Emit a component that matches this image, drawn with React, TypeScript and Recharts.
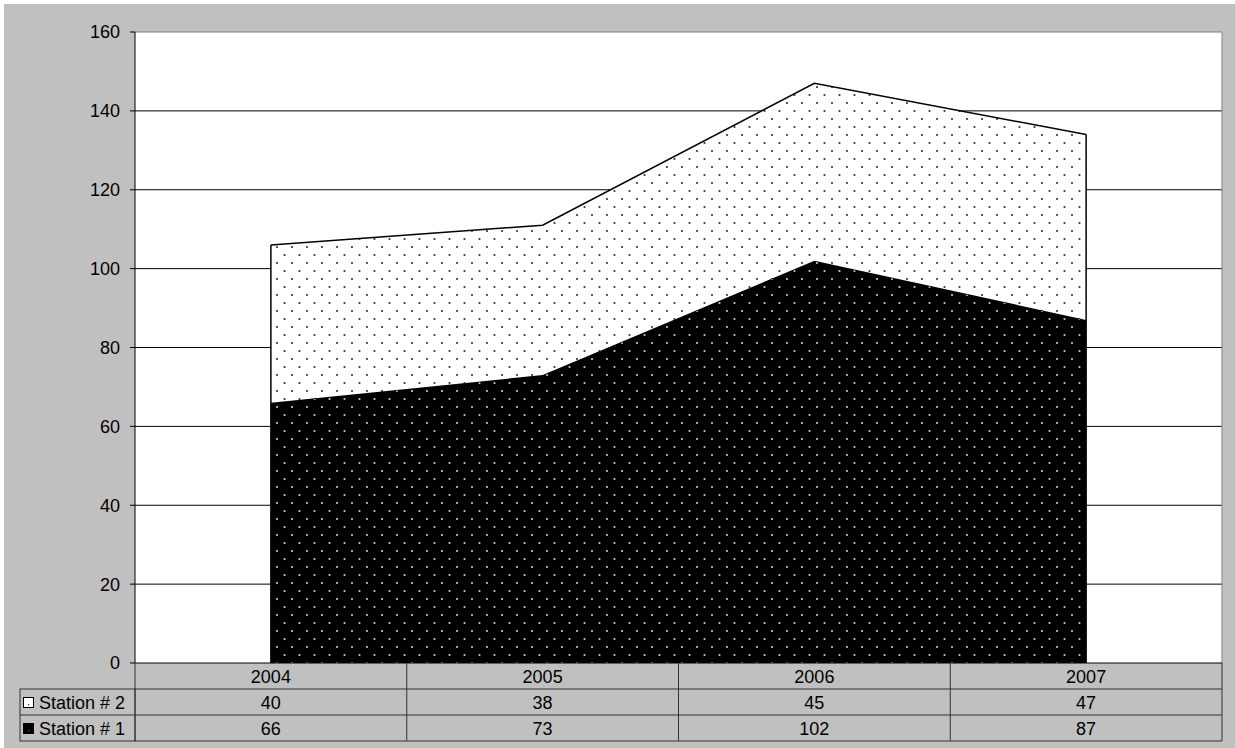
import React from 'react'
import {
  AreaChart,
  Area,
  XAxis,
  YAxis,
  CartesianGrid,
  ReferenceLine,
} from 'recharts'

const years = ['2004', '2005', '2006', '2007']
const station1 = [66, 73, 102, 87]
const station2 = [40, 38, 45, 47]
const yTicks = [0, 20, 40, 60, 80, 100, 120, 140, 160]
const seriesNames = ['Station # 2', 'Station # 1']

const data = years.map((year, i) => ({
  year,
  s1: station1[i],
  s2: station2[i],
}))

const FONT = '"Liberation Sans", Arial, sans-serif'
const FONT_SIZE = 18
const CHART_W = 1231
const CHART_H = 744
const MARGIN = { top: 28, right: 13, left: 0, bottom: 7 }
const Y_AXIS_W = 131
const PLOT_W = CHART_W - MARGIN.left - MARGIN.right - Y_AXIS_W
const CAT_W = PLOT_W / years.length
const ROW_H = 26
const TABLE_LINE = '#333'
const HEADER_W = 115

// one column of the data table under each category
function TableTick(props: any) {
  const { x, y, payload, index } = props
  const i = payload.index ?? index
  const left = x - CAT_W / 2
  const right = x + CAT_W / 2
  const rows = [years[i], station2[i], station1[i]]
  return (
    <g>
      {i === 0 && <line x1={left} y1={y} x2={left} y2={y + ROW_H * 3} stroke={TABLE_LINE} />}
      <line x1={right} y1={y} x2={right} y2={y + ROW_H * 3} stroke={TABLE_LINE} />
      <line x1={left} y1={y + ROW_H} x2={right} y2={y + ROW_H} stroke={TABLE_LINE} />
      <line x1={left} y1={y + ROW_H * 2} x2={right} y2={y + ROW_H * 2} stroke={TABLE_LINE} />
      <line x1={left} y1={y + ROW_H * 3} x2={right} y2={y + ROW_H * 3} stroke={TABLE_LINE} />
      {rows.map((v, r) => (
        <text
          key={r}
          x={x}
          y={y + ROW_H * r + 20}
          textAnchor="middle"
          fontSize={FONT_SIZE}
          fontFamily={FONT}
          fill="#000"
        >
          {v}
        </text>
      ))}
      {i === 0 && (
        <g>
          <rect
            x={left - HEADER_W}
            y={y + ROW_H}
            width={HEADER_W}
            height={ROW_H * 2}
            fill="none"
            stroke={TABLE_LINE}
          />
          <line x1={left - HEADER_W} y1={y + ROW_H * 2} x2={left} y2={y + ROW_H * 2} stroke={TABLE_LINE} />
          {seriesNames.map((name, r) => {
            const cy = y + ROW_H * (r + 1) + ROW_H / 2
            const black = r === 1
            return (
              <g key={name}>
                <rect
                  x={left - HEADER_W + 3.5}
                  y={cy - 4.5}
                  width={10}
                  height={10}
                  fill={black ? '#000' : '#fff'}
                  stroke="#000"
                />
                <rect x={left - HEADER_W + 8} y={cy + 2} width={1.2} height={1.2} fill={black ? '#666' : '#444'} />
                <text
                  x={left - HEADER_W + 19}
                  y={cy + 7}
                  fontSize={FONT_SIZE}
                  fontFamily={FONT}
                  fill="#000"
                >
                  {name}
                </text>
              </g>
            )
          })}
        </g>
      )}
    </g>
  )
}

export default function App() {
  const first = years[0]
  const last = years[years.length - 1]
  return (
    <div
      style={{
        position: 'absolute',
        left: 0,
        top: 0,
        width: 1235,
        height: 748,
        background: '#fff',
      }}
    >
      <div style={{ position: 'absolute', left: 4, top: 4, background: '#C0C0C0' }}>
        <AreaChart width={CHART_W} height={CHART_H} data={data} margin={MARGIN}>
          <defs>
            <pattern id="dotsLight" width={15} height={16} patternUnits="userSpaceOnUse">
              <rect width={15} height={16} fill="#fff" />
              <circle cx={3} cy={3} r={1.1} fill="#333" />
              <circle cx={10.5} cy={11} r={1.1} fill="#333" />
            </pattern>
            <pattern id="dotsDark" width={15} height={16} patternUnits="userSpaceOnUse">
              <rect width={15} height={16} fill="#000" />
              <circle cx={3} cy={3} r={1.1} fill="#ccc" />
              <circle cx={10.5} cy={11} r={1.1} fill="#ccc" />
            </pattern>
          </defs>
          <CartesianGrid
            fill="#fff"
            stroke="#000"
            vertical={false}
            horizontalValues={[20, 40, 60, 80, 100, 120, 140]}
          />
          <CartesianGrid
            stroke="#808080"
            horizontalValues={[160]}
            verticalPoints={[CHART_W - MARGIN.right]}
          />
          <XAxis
            dataKey="year"
            interval={0}
            height={ROW_H * 3}
            padding={{ left: CAT_W / 2, right: CAT_W / 2 }}
            axisLine={{ stroke: '#000' }}
            tickLine={false}
            tickSize={0}
            tickMargin={0}
            tick={<TableTick />}
          />
          <YAxis
            width={Y_AXIS_W}
            domain={[0, 160]}
            ticks={yTicks}
            interval={0}
            axisLine={{ stroke: '#000' }}
            tickLine={{ stroke: '#000' }}
            tickSize={5}
            tickMargin={10}
            tick={{ fill: '#000', fontSize: FONT_SIZE, fontFamily: FONT }}
          />
          <Area
            type="linear"
            dataKey="s1"
            stackId="1"
            stroke="#000"
            strokeWidth={1.5}
            fill="url(#dotsDark)"
            fillOpacity={1}
            isAnimationActive={false}
          />
          <Area
            type="linear"
            dataKey="s2"
            stackId="1"
            stroke="#000"
            strokeWidth={1.5}
            fill="url(#dotsLight)"
            fillOpacity={1}
            isAnimationActive={false}
          />
          <ReferenceLine
            segment={[
              { x: first, y: 0 },
              { x: first, y: station1[0] + station2[0] },
            ]}
            stroke="#000"
            strokeWidth={1.5}
          />
          <ReferenceLine
            segment={[
              { x: last, y: 0 },
              { x: last, y: station1[years.length - 1] + station2[years.length - 1] },
            ]}
            stroke="#000"
            strokeWidth={1.5}
          />
        </AreaChart>
      </div>
    </div>
  )
}
